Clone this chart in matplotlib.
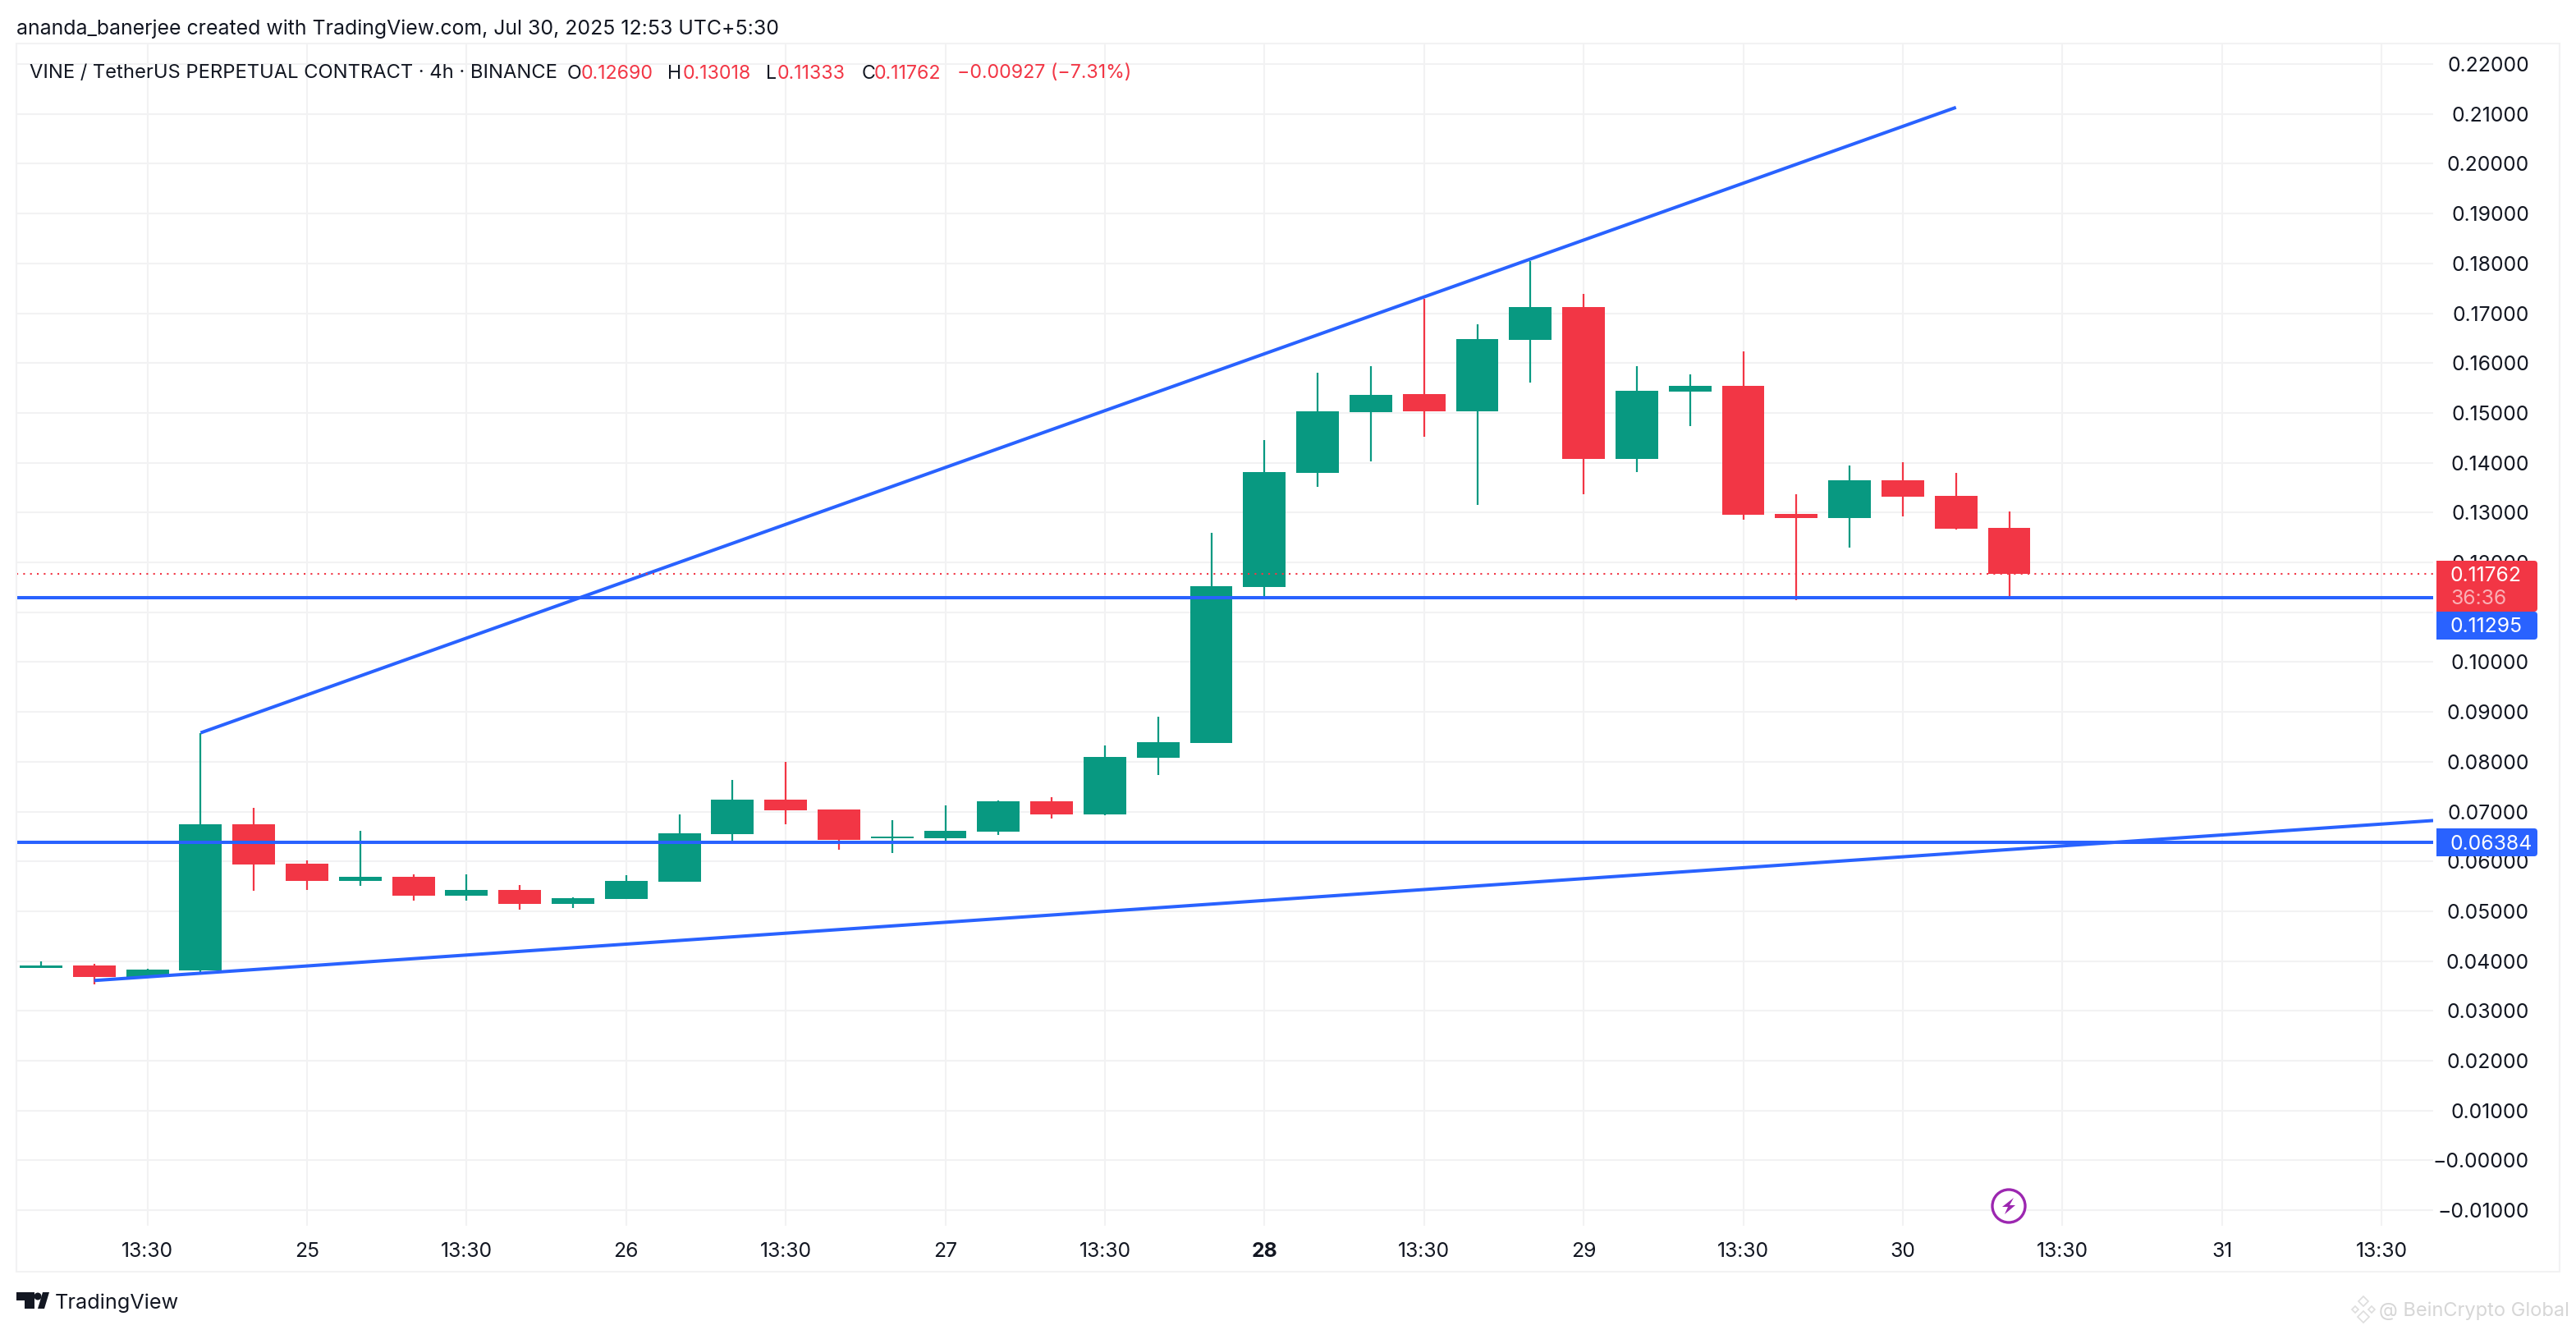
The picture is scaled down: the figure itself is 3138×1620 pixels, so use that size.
import matplotlib
matplotlib.use('Agg')
import matplotlib.pyplot as plt
from matplotlib.patches import Rectangle, FancyBboxPatch, Circle, Polygon
from matplotlib.transforms import IdentityTransform

W, H = 3138, 1620

# candles, one per 4h
opens = [0.0386, 0.0391, 0.0368, 0.0381, 0.0674, 0.0595, 0.0561, 0.0569, 0.0531, 0.0543,
         0.0515, 0.0525, 0.0559, 0.0655, 0.0724, 0.0704, 0.0646, 0.0646, 0.0660, 0.0721,
         0.0694, 0.0808, 0.0838, 0.1151, 0.1380, 0.1501, 0.1538, 0.1503, 0.1646, 0.1712,
         0.1408, 0.1543, 0.1554, 0.1297, 0.1289, 0.1365, 0.1333, 0.12690]
highs = [0.0399, 0.0394, 0.0385, 0.0858, 0.0707, 0.0602, 0.0661, 0.0574, 0.0574, 0.0553,
         0.0528, 0.0572, 0.0694, 0.0763, 0.0800, 0.0704, 0.0683, 0.0712, 0.0722, 0.0729,
         0.0833, 0.0890, 0.1259, 0.1445, 0.1581, 0.1594, 0.1729, 0.1678, 0.1805, 0.1739,
         0.1594, 0.1577, 0.1623, 0.1337, 0.1394, 0.1401, 0.1380, 0.13018]
lows = [0.0386, 0.0353, 0.0368, 0.0378, 0.0541, 0.0543, 0.0551, 0.0521, 0.0521, 0.0503,
        0.0506, 0.0525, 0.0559, 0.0640, 0.0674, 0.0623, 0.0617, 0.0637, 0.0653, 0.0686,
        0.0693, 0.0773, 0.0838, 0.1131, 0.1352, 0.1403, 0.1452, 0.1315, 0.1561, 0.1337,
        0.1381, 0.1473, 0.1286, 0.1124, 0.1230, 0.1292, 0.1266, 0.11333]
closes = [0.0391, 0.0368, 0.0383, 0.0674, 0.0594, 0.0561, 0.0569, 0.0531, 0.0543, 0.0515,
          0.0526, 0.0561, 0.0656, 0.0724, 0.0702, 0.0643, 0.0650, 0.0661, 0.0721, 0.0694,
          0.0810, 0.0839, 0.1152, 0.1381, 0.1503, 0.1536, 0.1503, 0.1648, 0.1712, 0.1408,
          0.1544, 0.1554, 0.1296, 0.1289, 0.1365, 0.1332, 0.1268, 0.11762]

# drawn lines
support_levels = [0.11295, 0.06384]
upper_x, upper_y = [3, 36], [0.0858, 0.2113]
lower_x, lower_y = [1, 44.97], [0.0361, 0.0682]
last_close = 0.11762

price_ticks = [0.22, 0.21, 0.20, 0.19, 0.18, 0.17, 0.16, 0.15, 0.14, 0.13, 0.12, 0.11,
               0.10, 0.09, 0.08, 0.07, 0.06, 0.05, 0.04, 0.03, 0.02, 0.01, 0.0, -0.01]
time_ticks = [2, 5, 8, 11, 14, 17, 20, 23, 26, 29, 32, 35, 38, 41, 44]
time_labels = ['13:30', '25', '13:30', '26', '13:30', '27', '13:30', '28', '13:30', '29',
               '13:30', '30', '13:30', '31', '13:30']

GREEN = '#089981'
RED = '#F23645'
BLUE = '#2962FF'
PURPLE = '#9C27B0'
GRID = '#F2F2F3'
TXT = '#131722'
TICK_FS = 17.8

plt.rcParams['font.family'] = ['Inter', 'DejaVu Sans']

fig = plt.figure(figsize=(W / 100, H / 100), dpi=100, facecolor='white')
L, R, T, B = 20, 2964, 53, 1493
ax = fig.add_axes([L / W, 1 - B / H, (R - L) / W, (B - T) / H])
ax.set_xlim(-0.463, 44.97)
ax.set_ylim(-0.01311, 0.22412)
for s in ax.spines.values():
    s.set_visible(False)

ax.set_axisbelow(True)
ax.grid(True, color=GRID, linewidth=1.5)
ax.yaxis.tick_right()
ax.set_yticks(price_ticks)
ylabels = []
for p in price_ticks:
    ylabels.append('−0.00000' if p == 0 else ('−%.5f' % -p if p < 0 else '%.5f' % p))
ax.set_yticklabels(ylabels)
ax.set_xticks(time_ticks)
ax.set_xticklabels(time_labels)
ax.tick_params(axis='y', length=0, pad=0, labelsize=TICK_FS, labelcolor=TXT)
ax.tick_params(axis='x', length=0, pad=14.5, labelsize=TICK_FS, labelcolor=TXT)
for t, lab in zip(ax.get_xticklabels(), time_labels):
    if lab == '28':
        t.set_fontweight('bold')
for t in ax.get_yticklabels():
    t.set_ha('right')
    t.set_x(1.0397)

# candles
xs = list(range(len(opens)))
colors = [GREEN if c >= o else RED for o, c in zip(opens, closes)]
ax.vlines(xs, lows, highs, colors=colors, linewidth=1.6, zorder=3)
ax.bar(xs, [abs(c - o) for o, c in zip(opens, closes)],
       bottom=[min(o, c) for o, c in zip(opens, closes)],
       width=0.8, color=colors, linewidth=0, zorder=4)

# lines on top
for lvl in support_levels:
    ax.axhline(lvl, color=BLUE, linewidth=2.9, zorder=5)
ax.plot(upper_x, upper_y, color=BLUE, linewidth=2.9, zorder=5, solid_capstyle='butt')
ax.plot(lower_x, lower_y, color=BLUE, linewidth=2.9, zorder=5, solid_capstyle='butt')
ax.axhline(last_close, color=RED, linewidth=1.5, linestyle=(0, (1, 3)), zorder=5)


def px(x, y):
    return x / W, 1 - y / H


def tag(x0, y0, x1, y1, color):
    # price tag, square on the left and slightly rounded on the right
    tr = IdentityTransform()
    fig.add_artist(FancyBboxPatch((x0 + 10, H - y1 + 3), x1 - x0 - 13, y1 - y0 - 6,
                                  boxstyle='round,pad=3,rounding_size=4', transform=tr,
                                  fc=color, ec='none', zorder=2))
    fig.add_artist(Rectangle((x0, H - y1), 20, y1 - y0, transform=tr, fc=color, ec='none', zorder=2))


tag(2968, 683, 3091, 745, RED)
tag(2968, 745, 3091, 779, BLUE)
tag(2968, 1009, 3091, 1043, BLUE)
for (x, y, s, c) in [(2985, 699, '0.11762', 'white'), (2985, 727, '36:36', '#FAB0B6'),
                     (2985, 761, '0.11295', 'white'), (2985, 1026, '0.06384', 'white')]:
    fig.text(*px(x, y), s, color=c, fontsize=TICK_FS, va='center_baseline', ha='left', zorder=3)

# outer frame
fig.add_artist(Rectangle((20, H - 1549), 3098, 1496, transform=IdentityTransform(),
                         fc='none', ec=GRID, linewidth=1.5, zorder=1))

# header
fig.text(*px(20, 33), 'ananda_banerjee created with TradingView.com, Jul 30, 2025 12:53 UTC+5:30',
         color=TXT, fontsize=17.9, va='center_baseline')
fig.text(*px(36, 87), 'VINE / TetherUS PERPETUAL CONTRACT · 4h · BINANCE', color=TXT,
         fontsize=17.1, va='center_baseline', zorder=3)
legend_parts = [(691, 'O', TXT), (708, '0.12690', RED), (813, 'H', TXT), (832, '0.13018', RED),
                (933, 'L', TXT), (947, '0.11333', RED), (1050, 'C', TXT), (1065, '0.11762', RED),
                (1166, '−0.00927 (−7.31%)', RED)]
for x, s, c in legend_parts:
    fig.text(*px(x, 87), s, color=c, fontsize=16.7, va='center_baseline', zorder=3)

# footer logo
tr = IdentityTransform()
for pts in [[(20, 1574), (42, 1574), (42, 1594), (30, 1594), (30, 1584), (20, 1584)],
            [(46, 1594), (52, 1574), (60, 1574), (54, 1594)]]:
    fig.add_artist(Polygon([(x, H - y) for x, y in pts], transform=tr, fc=TXT, ec='none'))
fig.add_artist(Circle((46, H - 1579), 4.5, transform=tr, fc=TXT, ec='none'))
fig.text(*px(67, 1585), 'TradingView', color=TXT, fontsize=18.2, va='center_baseline')

# lightning marker
fig.add_artist(Circle((2447, H - 1469), 20, transform=tr, fc='white', ec=PURPLE, linewidth=2.4, zorder=3))
bolt = [(2453, 1459), (2439, 1470), (2446, 1470), (2442, 1479), (2455, 1468), (2448, 1468)]
fig.add_artist(Polygon([(x, H - y) for x, y in bolt], transform=tr, fc=PURPLE, ec='none', zorder=3))

# watermark
fig.text(*px(2898, 1594), '@ BeinCrypto Global', color='#D6D6D6', fontsize=17, va='center_baseline')
for cx, cy, r in [(2879, 1585, 6), (2869, 1595, 4), (2889, 1595, 4), (2879, 1604, 7)]:
    diamond = [(cx, H - cy + r), (cx + r, H - cy), (cx, H - cy - r), (cx - r, H - cy)]
    fig.add_artist(Polygon(diamond, transform=tr, fc='none', ec='#DDDDDD', linewidth=1.2))

fig.savefig('out.png', dpi=100)
